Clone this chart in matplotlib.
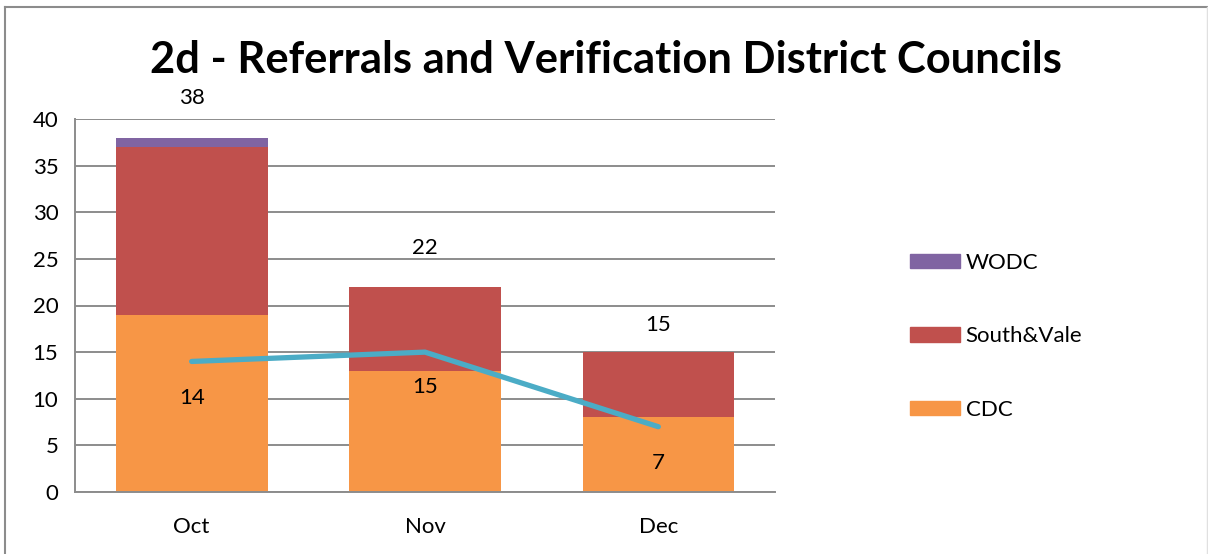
import matplotlib
matplotlib.use("Agg")
import matplotlib.pyplot as plt
from matplotlib.patches import Patch
from matplotlib.lines import Line2D
import numpy as np

plt.rcParams['font.family'] = ['Lato', 'DejaVu Sans']

months = ["Oct", "Nov", "Dec"]
cdc = [19, 13, 8]
south_vale = [18, 9, 7]
wodc = [1, 0, 0]
totals = [38, 22, 15]
line_vals = [14, 15, 7]

c_cdc = "#F79646"
c_sv = "#C0504D"
c_wodc = "#8064A2"
c_line = "#4BACC6"
grid_c = "#8C8C8C"

fig = plt.figure(figsize=(12.08, 5.54), dpi=100)
ax = fig.add_axes([75/1208, 1-492/554, 700/1208, 373/554])

x = np.arange(len(months))
w = 0.65
ax.bar(x, cdc, w, color=c_cdc, zorder=2)
ax.bar(x, south_vale, w, bottom=cdc, color=c_sv, zorder=2)
bot2 = [a + b for a, b in zip(cdc, south_vale)]
ax.bar(x, wodc, w, bottom=bot2, color=c_wodc, zorder=2)
ax.plot(x, line_vals, color=c_line, lw=3.8, solid_capstyle='round', zorder=3)

tot_off = [4.25, 4.2, 2.9]
for i, t in enumerate(totals):
    ax.text(x[i], t + tot_off[i], str(t), ha='center', va='center', fontsize=16)
line_off = [-3.9, -3.7, -3.9]
for i, v in enumerate(line_vals):
    ax.text(x[i], v + line_off[i], str(v), ha='center', va='center', fontsize=16, zorder=4)

ax.set_xlim(-0.5, 2.5)
ax.set_ylim(0, 40)
ax.set_yticks(range(0, 41, 5))
ax.set_xticks(x)
ax.set_xticklabels(months)
ax.tick_params(axis='both', length=0, labelsize=16)
ax.tick_params(axis='x', pad=18)
ax.tick_params(axis='y', pad=12)
ax.yaxis.grid(True, color=grid_c, lw=1.4, zorder=0)
ax.set_axisbelow(True)
for s in ['top', 'right']:
    ax.spines[s].set_visible(False)
for s in ['left', 'bottom']:
    ax.spines[s].set_color(grid_c)
    ax.spines[s].set_linewidth(1.4)

fig.text(606/1208, 1-60/554, "2d - Referrals and Verification District Councils",
         ha='center', va='center', fontsize=31.3, fontweight='bold')

handles = [Patch(color=c_wodc, label="WODC"),
           Patch(color=c_sv, label="South&Vale"),
           Patch(color=c_cdc, label="CDC")]
fig.legend(handles=handles, loc='upper left', bbox_to_anchor=(890/1208, 1-233/554),
           frameon=False, fontsize=16, handlelength=2.25, handleheight=0.6,
           labelspacing=2.4, handletextpad=0.25)

fig.add_artist(Line2D([5/1208, 5/1208], [0, 1-7/554], transform=fig.transFigure,
                      color='#8C8C8C', lw=1.5))
fig.add_artist(Line2D([5/1208, 1207/1208], [1-7/554, 1-7/554], transform=fig.transFigure,
                      color='#8C8C8C', lw=1.5))
fig.add_artist(Line2D([1207/1208, 1207/1208], [0, 1-7/554], transform=fig.transFigure,
                      color='#E0E0E0', lw=1.0))

fig.savefig("out.png", dpi=100)
